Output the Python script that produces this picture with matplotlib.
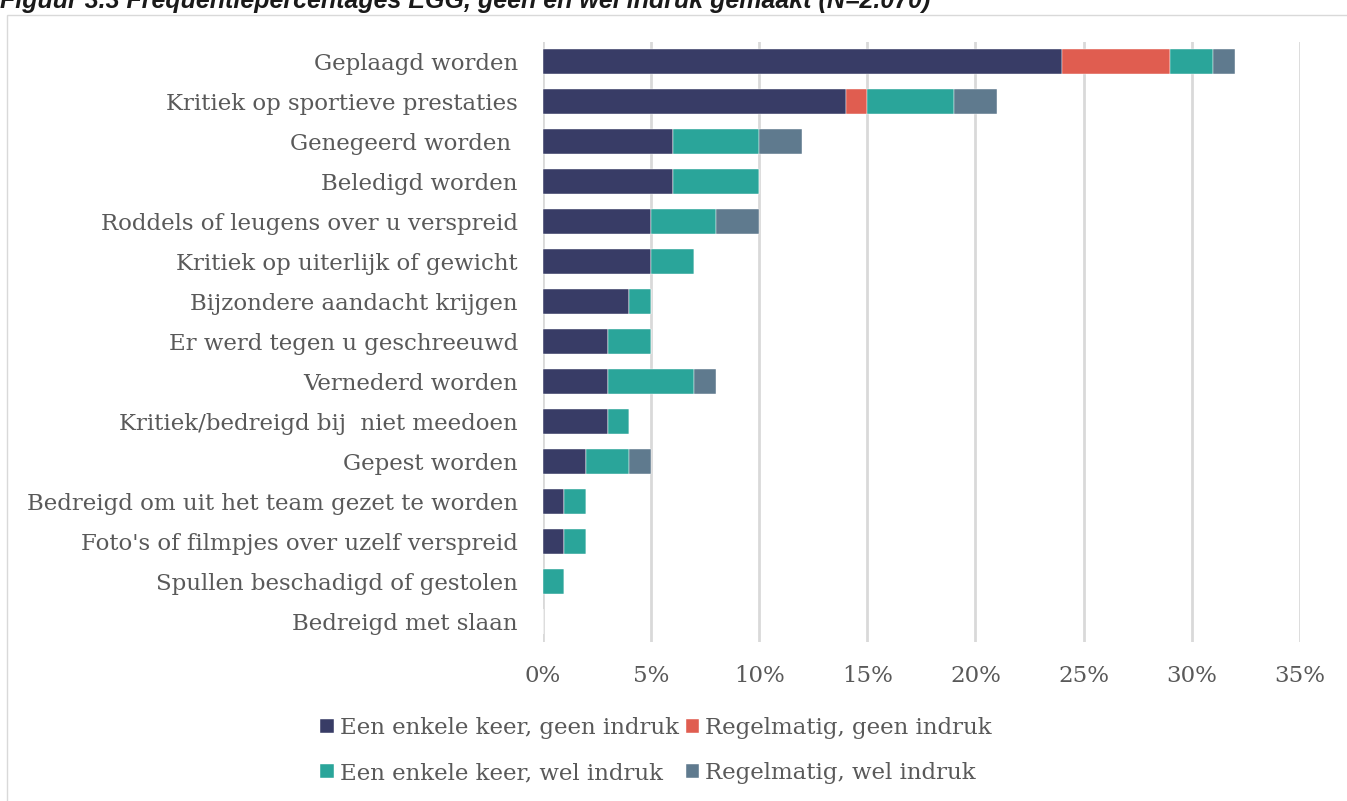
import numpy as np
import matplotlib.pyplot as plt
from matplotlib.patches import Rectangle

# Data (percentages)
categories = [
    "Geplaagd worden",
    "Kritiek op sportieve prestaties",
    "Genegeerd worden ",
    "Beledigd worden",
    "Roddels of leugens over u verspreid",
    "Kritiek op uiterlijk of gewicht",
    "Bijzondere aandacht krijgen",
    "Er werd tegen u geschreeuwd",
    "Vernederd worden",
    "Kritiek/bedreigd bij  niet meedoen",
    "Gepest worden",
    "Bedreigd om uit het team gezet te worden",
    "Foto's of filmpjes over uzelf verspreid",
    "Spullen beschadigd of gestolen",
    "Bedreigd met slaan",
]
enkel_geen = [24, 14, 6, 6, 5, 5, 4, 3, 3, 3, 2, 1, 1, 0, 0]
regel_geen = [5, 1, 0, 0, 0, 0, 0, 0, 0, 0, 0, 0, 0, 0, 0]
enkel_wel = [2, 4, 4, 4, 3, 2, 1, 2, 4, 1, 2, 1, 1, 1, 0]
regel_wel = [1, 2, 2, 0, 2, 0, 0, 0, 1, 0, 1, 0, 0, 0, 0]

series = [
    ("Een enkele keer, geen indruk", enkel_geen, "#383c66"),
    ("Regelmatig, geen indruk", regel_geen, "#e05d50"),
    ("Een enkele keer, wel indruk", enkel_wel, "#2aa59a"),
    ("Regelmatig, wel indruk", regel_wel, "#5f7a8e"),
]
xticks = [0, 5, 10, 15, 20, 25, 30, 35]

serif = "DejaVu Serif"
txt_color = "#595959"
fs = 16.5

fig = plt.figure(figsize=(13.47, 8.01), dpi=100)
ax = fig.add_axes([0.403, 0.199, 0.562, 0.749])

y = np.arange(len(categories))
left = np.zeros(len(categories))
handles = []
for name, vals, col in series:
    vals = np.array(vals, dtype=float)
    b = ax.barh(y, vals, left=left, height=0.62, color=col, label=name,
                edgecolor="white", linewidth=0.3, zorder=3)
    handles.append(b)
    left += vals

ax.set_xlim(0, 35)
ax.set_ylim(len(categories) - 0.5, -0.5)
ax.set_xticks(xticks)
ax.set_xticklabels([f"{t}%" for t in xticks], family=serif, fontsize=fs, color=txt_color)
ax.set_yticks(y)
ax.set_yticklabels(categories, family=serif, fontsize=fs, color=txt_color)
ax.tick_params(axis="y", length=0, pad=18)
ax.tick_params(axis="x", length=0, pad=17)
ax.grid(axis="x", color="#d9d9d9", linewidth=2, zorder=0)
for s in ax.spines.values():
    s.set_visible(False)

# legend, row-wise order
order = [0, 2, 1, 3]
leg = fig.legend([handles[i] for i in order], [series[i][0] for i in order],
                 ncol=2, loc="center", bbox_to_anchor=(0.487, 0.063),
                 frameon=False, handlelength=0.6, handleheight=0.6,
                 handletextpad=0.25, columnspacing=0.3, labelspacing=1.0,
                 prop={"family": serif, "size": fs})
for t in leg.get_texts():
    t.set_color(txt_color)

# chart border
fig.patches.append(Rectangle((7 / 1347, -0.01), 1.01, 1 - 15 / 801 + 0.01,
                             transform=fig.transFigure, fill=False,
                             edgecolor="#d9d9d9", linewidth=1))

fig.text(0.0, 1 - 8 / 801, "Figuur 3.3 Frequentiepercentages EGG, geen en wel indruk gemaakt (N=2.070)",
         family="Liberation Sans", fontsize=18, fontweight="bold", fontstyle="italic",
         va="baseline", ha="left", color="#1a1a1a")

fig.savefig("out.png", dpi=100)
